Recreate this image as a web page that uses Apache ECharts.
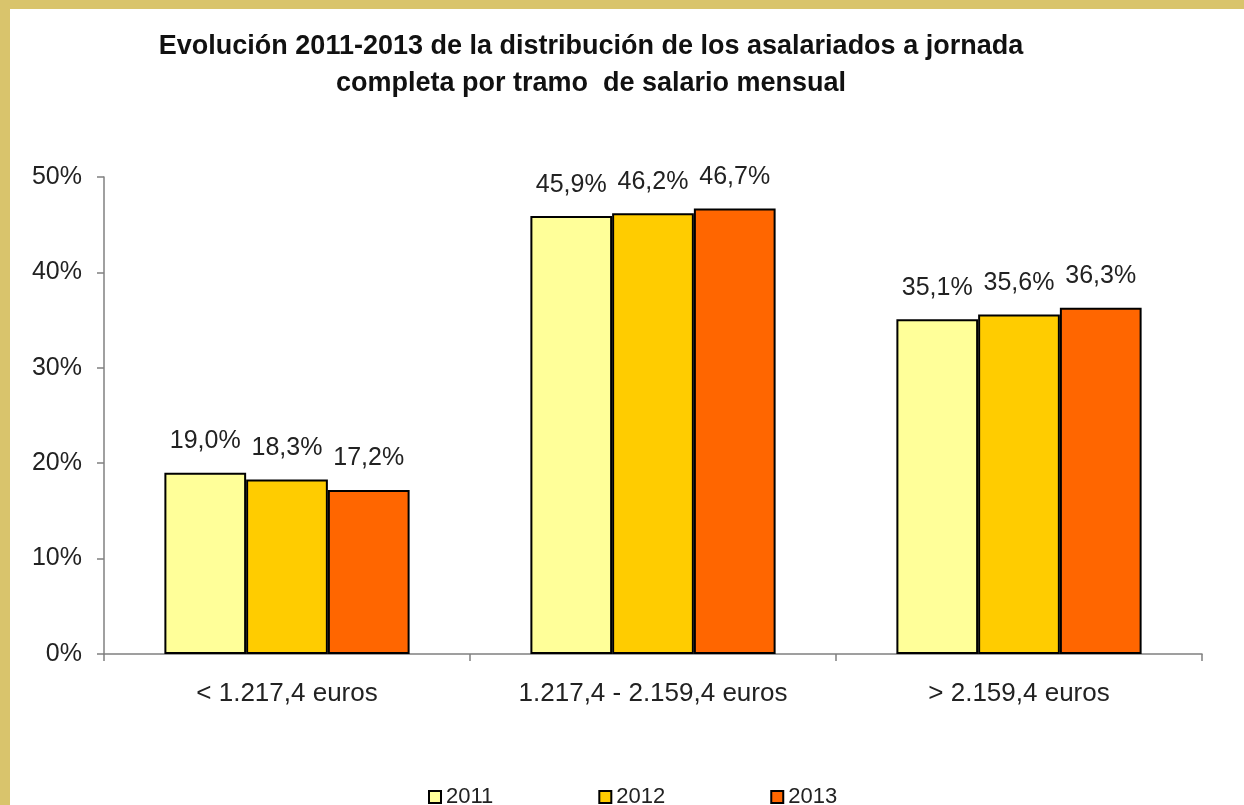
<!DOCTYPE html>
<html>
<head>
<meta charset="utf-8">
<script src="https://cdn.jsdelivr.net/npm/echarts@6/dist/echarts.min.js"></script>
<style>
  html, body { margin: 0; padding: 0; background: #d9c46c; }
  #main { position: absolute; left: 10px; top: 9px; width: 1234px; height: 796px; background: #fff; }
</style>
</head>
<body>
<div id="main"></div>
<script>
var tramos = ['< 1.217,4 euros', '1.217,4 - 2.159,4 euros', '> 2.159,4 euros'];
var anios = ['2011', '2012', '2013'];
var v2011 = [19.0, 45.9, 35.1];
var v2012 = [18.3, 46.2, 35.6];
var v2013 = [17.2, 46.7, 36.3];
var colores = ['#ffff99', '#ffcc00', '#ff6600'];

var fuente = 'Liberation Sans, Arial, sans-serif';

function serie(nombre, datos, color) {
    return {
        name: nombre,
        type: 'bar',
        data: datos,
        barGap: 0,
        barCategoryGap: '33%',
        itemStyle: { color: color, borderColor: '#000', borderWidth: 2 },
        label: {
            show: true,
            position: 'top',
            distance: 19,
            color: '#222',
            fontFamily: fuente,
            fontSize: 25,
            formatter: function (p) { return p.value.toFixed(1).replace('.', ',') + '%'; }
        }
    };
}

var myChart = echarts.init(document.getElementById('main'));
myChart.setOption({
    animation: false,
    textStyle: { fontFamily: fuente },
    graphic: [{
        type: 'text',
        x: 581,
        y: 19,
        style: {
            text: 'Evolución 2011-2013 de la distribución de los asalariados a jornada\ncompleta por tramo  de salario mensual',
            font: 'bold 27px "Liberation Sans", Arial, sans-serif',
            fill: '#111',
            align: 'center',
            verticalAlign: 'top',
            lineHeight: 37
        }
    }],
    legend: {
        data: anios,
        top: 772,
        left: 413,
        icon: 'rect',
        itemWidth: 12,
        itemHeight: 12,
        itemGap: 105,
        textStyle: { fontSize: 22, color: '#222', fontFamily: fuente }
    },
    grid: { left: 94, right: 42, top: 168, bottom: 151 },
    xAxis: {
        type: 'category',
        data: tramos,
        axisLine: { lineStyle: { color: '#808080', width: 1.5 } },
        axisTick: { show: true, length: 7, lineStyle: { color: '#808080', width: 1.5 } },
        axisLabel: { color: '#222', fontSize: 26, margin: 27 }
    },
    yAxis: {
        type: 'value',
        min: 0,
        max: 50,
        interval: 10,
        splitLine: { show: false },
        axisLine: { show: true, lineStyle: { color: '#808080', width: 1.5 } },
        axisTick: { show: true, length: 7, lineStyle: { color: '#808080', width: 1.5 } },
        axisLabel: { color: '#222', fontSize: 25, margin: 22, formatter: '{value}%' }
    },
    series: [
        serie(anios[0], v2011, colores[0]),
        serie(anios[1], v2012, colores[1]),
        serie(anios[2], v2013, colores[2])
    ]
});
</script>
</body>
</html>
